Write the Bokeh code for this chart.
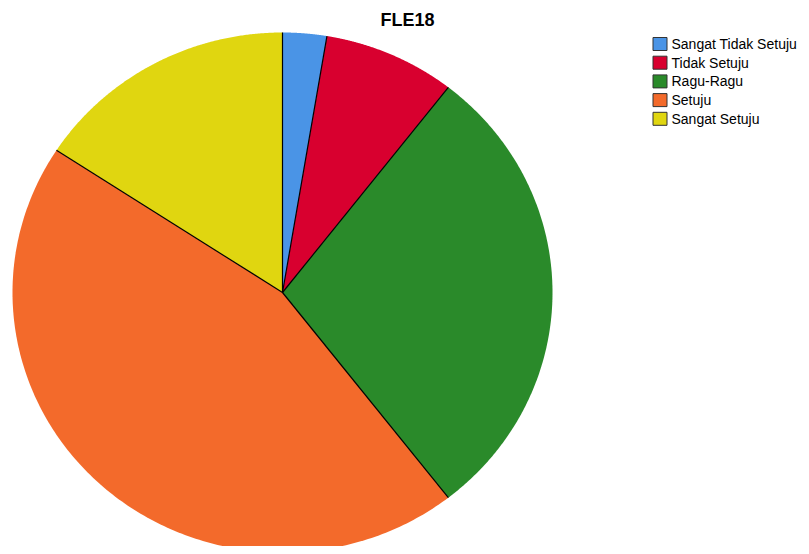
import numpy as np
from bokeh.plotting import figure
from bokeh.models import Range1d, ColumnDataSource
from bokeh.core.properties import value
from bokeh.embed import file_html
from bokeh.resources import INLINE

title = "FLE18"
categories = ["Sangat Tidak Setuju", "Tidak Setuju", "Ragu-Ragu", "Setuju", "Sangat Setuju"]
counts = [1, 3, 11, 17, 6]
colors = ["#4a94e6", "#d8002f", "#2a8a2a", "#f36a2b", "#e0d610"]

W, H = 801, 546
cx, cy = 282, 292      # pie centre (pixels)
rx, ry = 270, 260      # pie radii

p = figure(width=W, height=H, output_backend="svg", toolbar_location=None,
           x_range=Range1d(0, W), y_range=Range1d(H, 0),
           min_border=0, outline_line_color=None)
p.axis.visible = False
p.grid.visible = False
p.background_fill_color = "white"

vals = np.array(counts, dtype=float)
frac = vals / vals.sum()
cum = np.concatenate([[0], np.cumsum(frac)]) * 2 * np.pi

xs, ys = [], []
for i in range(len(vals)):
    t = np.linspace(cum[i], cum[i + 1], 200)
    xs.append(np.concatenate([[cx], cx + rx * np.sin(t), [cx]]).tolist())
    ys.append(np.concatenate([[cy], cy - ry * np.cos(t), [cy]]).tolist())

p.patches(xs=xs, ys=ys, fill_color=colors, line_color=None)

# slice borders
b = cum[:-1]
p.segment(x0=[cx] * len(b), y0=[cy] * len(b),
          x1=(cx + rx * np.sin(b)).tolist(), y1=(cy - ry * np.cos(b)).tolist(),
          line_color="black", line_width=1.2)

# title
p.text(x=[407], y=[19], text=[title], text_font=value("Liberation Sans"),
       text_font_style="bold", text_font_size="18px", text_align="center",
       text_baseline="middle", text_color="black")

# legend
idx = np.arange(len(categories))
ly = (43.5 + idx * 18.7).tolist()
src = ColumnDataSource(dict(x=[659.5] * len(categories), y=ly, c=colors,
                            tx=[671] * len(categories), t=categories))
p.rect(x="x", y="y", width=14, height=13, fill_color="c", line_color="#333333",
       line_width=1, source=src)
p.text(x="tx", y="y", text="t", text_font=value("Liberation Sans"),
       text_font_size="14px", text_baseline="middle", text_color="black", source=src)

open("out.html", "w").write(file_html(p, INLINE))
